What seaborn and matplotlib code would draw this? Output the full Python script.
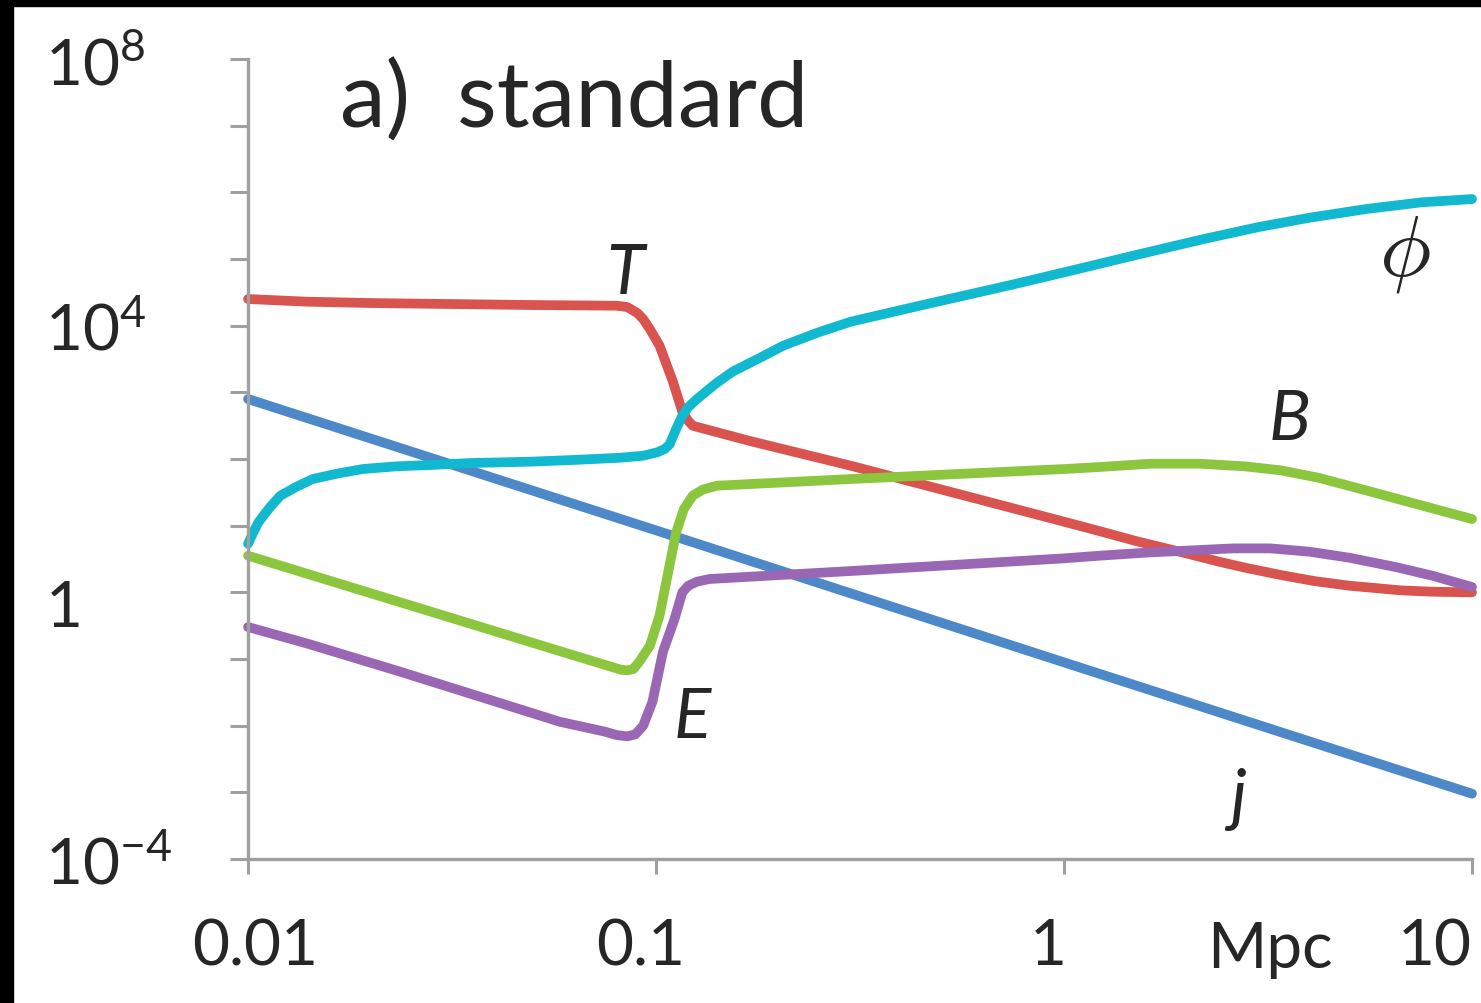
import numpy as np
import matplotlib
matplotlib.use("Agg")
import matplotlib.pyplot as plt
import matplotlib.transforms as mtransforms
from matplotlib.patches import Rectangle
import seaborn as sns

# curves: x in Mpc, y given as log10 of the value
j_x = [0.01, 0.1, 1, 10]
j_log10 = [2.9, 0.93, -1.05, -3.02]

t_x = [0.01, 0.014, 0.02, 0.05, 0.08, 0.085, 0.09, 0.093, 0.097, 0.102,
       0.110, 0.116, 0.12, 0.123, 0.13, 0.17, 0.30, 1.0, 1.22, 1.5, 1.92,
       2.4, 2.78, 3.4, 4.1, 5.0, 6.7, 8.0, 10]
t_log10 = [4.40, 4.36, 4.34, 4.31, 4.30, 4.28, 4.19, 4.10, 3.93, 3.70,
           3.16, 2.71, 2.57, 2.50, 2.46, 2.27, 1.90, 1.06, 0.92, 0.77, 0.61,
           0.46, 0.37, 0.26, 0.17, 0.10, 0.03, 0.01, 0.0]

phi_x = [0.01, 0.0103, 0.0106, 0.0109, 0.0114, 0.0120, 0.0131, 0.0144,
         0.0165, 0.0191, 0.023, 0.0279, 0.035, 0.0491, 0.065, 0.082, 0.093,
         0.1006, 0.105, 0.108, 0.112, 0.116, 0.12, 0.126, 0.14, 0.154, 0.18,
         0.205, 0.25, 0.30, 0.45, 0.74, 1.0, 1.5, 2.2, 3.0, 4.0, 5.5, 7.5, 10]
phi_log10 = [0.73, 0.90, 1.05, 1.15, 1.30, 1.45, 1.58, 1.70,
             1.78, 1.85, 1.89, 1.91, 1.94, 1.96, 1.99, 2.02, 2.05,
             2.10, 2.15, 2.22, 2.45, 2.65, 2.78, 2.90, 3.13, 3.31, 3.52,
             3.70, 3.90, 4.06, 4.31, 4.61, 4.80, 5.06, 5.30, 5.48, 5.62, 5.75,
             5.85, 5.90]

b_x = [0.01, 0.058, 0.082, 0.085, 0.088, 0.091, 0.0966, 0.102, 0.112, 0.117,
       0.123, 0.13, 0.141, 0.30, 1.0, 1.22, 1.63, 2.15, 2.78, 3.4, 4.2, 5.5,
       8.0, 10]
b_log10 = [0.55, -0.88, -1.16, -1.17, -1.15, -1.04, -0.80, -0.35, 0.90, 1.25,
           1.45, 1.54, 1.60, 1.70, 1.85, 1.88, 1.93, 1.93, 1.89, 1.83, 1.72,
           1.53, 1.26, 1.10]

e_x = [0.01, 0.014, 0.0236, 0.058, 0.075, 0.08, 0.085, 0.089, 0.093, 0.098,
       0.104, 0.111, 0.116, 0.12, 0.126, 0.135, 0.30, 1.0, 1.22, 1.63, 2.6,
       3.2, 4.0, 5.0, 6.5, 8.0, 10]
e_log10 = [-0.52, -0.77, -1.19, -1.94, -2.09, -2.14, -2.16, -2.13, -2.00,
           -1.64, -0.89, -0.40, 0.0, 0.10, 0.16, 0.20, 0.32, 0.51, 0.55, 0.60,
           0.66, 0.66, 0.61, 0.52, 0.38, 0.25, 0.08]

curves = [
    (j_x, j_log10, "#4d88c9"),
    (t_x, t_log10, "#d9534f"),
    (b_x, b_log10, "#8cc63e"),
    (e_x, e_log10, "#9a67b5"),
    (phi_x, phi_log10, "#10b8d0"),
]

labels = [("T", 0.084, 10**4.79), ("B", 3.58, 10**2.6),
          ("E", 0.123, 10**-1.87), ("j", 2.67, 10**-3.09)]

sns.set_style("white")
plt.rcParams["font.family"] = ["Lato", "DejaVu Sans"]
plt.rcParams["mathtext.fontset"] = "cm"

fig, ax = plt.subplots(figsize=(14.81, 10.04), dpi=100)
fig.subplots_adjust(left=0.1675, right=0.9939, bottom=0.1434, top=0.9402)

for xs, ys, col in curves:
    sns.lineplot(x=xs, y=10 ** np.array(ys), color=col, lw=7, ax=ax,
                 estimator=None, sort=False, solid_capstyle="round",
                 solid_joinstyle="round", clip_on=False)

ax.set_xscale("log")
ax.set_yscale("log")
ax.set_xlim(0.01, 10)
ax.set_ylim(1e-4, 1e8)

grey = "#a0a0a0"
for s in ["top", "right"]:
    ax.spines[s].set_visible(False)
for s in ["left", "bottom"]:
    ax.spines[s].set_color(grey)
    ax.spines[s].set_linewidth(2.4)

ax.set_xticks([0.01, 0.1, 1, 10])
ax.set_xticklabels(["0.01", "0.1", "1", "10"], fontsize=46)
ax.xaxis.set_minor_locator(matplotlib.ticker.NullLocator())
yt = 10.0 ** np.arange(-4, 9)
ylab = {-4: r"$\mathregular{10^{-4}}$", 0: "1",
        4: r"$\mathregular{10^{4}}$", 8: r"$\mathregular{10^{8}}$"}
ax.set_yticks(yt)
ax.set_yticklabels([ylab.get(k, "") for k in range(-4, 9)], fontsize=46)
ax.yaxis.set_minor_locator(matplotlib.ticker.NullLocator())
ax.tick_params(axis="x", direction="out", length=11, width=2.2, color=grey,
               pad=31, bottom=True)
ax.tick_params(axis="y", direction="out", length=13, width=2.2, color=grey,
               pad=133, left=True)
for lab in ax.get_yticklabels():
    lab.set_horizontalalignment("left")
    if lab.get_text() == "1":
        lab.set_transform(lab.get_transform() + mtransforms.ScaledTranslation(
            0, -0.1, fig.dpi_scale_trans))

# nudge x labels like the original layout
x_shift = [0.07, -0.15, -0.16, 0.0]
for lab, dx in zip(ax.get_xticklabels(), x_shift):
    lab.set_transform(lab.get_transform() + mtransforms.ScaledTranslation(
        dx, 0, fig.dpi_scale_trans))
ax.get_xticklabels()[-1].set_horizontalalignment("right")

trans = mtransforms.blended_transform_factory(ax.transData, ax.transAxes)
ax.text(3.2, -0.135, "Mpc", fontsize=46, ha="center", va="baseline",
        transform=trans)

ax.text(0.075, 0.916, "a)  standard", fontsize=66, ha="left", va="baseline",
        transform=ax.transAxes)

for txt, lx, ly in labels:
    ax.text(lx, ly, txt, fontsize=50, style="italic", ha="center",
            va="center")
ax.text(6.86, 10**5.08, r"$\phi$", fontsize=62, ha="center", va="center")

fig.add_artist(Rectangle((0, 0), 13 / 1481, 1, transform=fig.transFigure,
                         color="black", zorder=10))
fig.add_artist(Rectangle((0, 1 - 7 / 1004), 1, 7 / 1004,
                         transform=fig.transFigure, color="black", zorder=10))

fig.savefig("out.png", dpi=100)
